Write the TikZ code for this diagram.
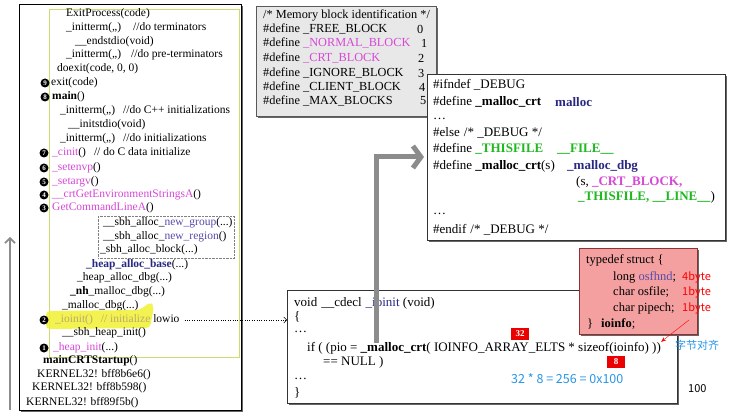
\documentclass[tikz,border=0pt]{standalone}
\usepackage{fontspec}
\setmainfont{Liberation Serif}
\newfontfamily\cjk{Noto Sans CJK SC}
\usetikzlibrary{arrows.meta,shadows,positioning}

\definecolor{pinkfn}{RGB}{214,72,214}
\definecolor{navyfn}{RGB}{40,40,130}
\definecolor{navylt}{RGB}{85,75,170}
\definecolor{greenfn}{RGB}{30,185,30}
\definecolor{bluenote}{RGB}{40,150,230}
\definecolor{framegreen}{RGB}{205,220,110}
\definecolor{hlyellow}{RGB}{240,240,50}
\definecolor{fadedtxt}{RGB}{190,170,110}
\definecolor{memgray}{RGB}{232,232,232}
\definecolor{typefill}{RGB}{245,160,160}
\definecolor{typedraw}{RGB}{140,50,50}
\definecolor{tagred}{RGB}{235,0,0}
\definecolor{arrowgray}{RGB}{140,140,140}

\tikzset{
  shadowed/.style={drop shadow={shadow xshift=2pt,shadow yshift=-2pt,fill=black!60,opacity=1}},
  ln/.style={anchor=west, inner sep=0pt, font=\fontsize{11.5}{13}\selectfont},
  meml/.style={anchor=west, inner sep=0pt, font=\fontsize{12.3}{14}\selectfont},
  defl/.style={anchor=west, inner sep=0pt, font=\fontsize{13}{15}\selectfont},
  iol/.style={anchor=west, inner sep=0pt, font=\fontsize{13}{15}\selectfont},
  tdl/.style={anchor=west, inner sep=0pt, font=\fontsize{12.5}{14}\selectfont},
  note/.style={anchor=west, inner sep=0pt, font=\cjk\fontsize{11}{13}\selectfont},
  num/.style={circle, fill=black, text=white, inner sep=0pt, minimum size=9pt, font=\fontsize{7}{7}\selectfont\bfseries},
  redtag/.style={fill=tagred, text=white, inner sep=0pt, minimum width=18pt, minimum height=12pt, font=\fontsize{9}{9}\selectfont\bfseries},
}

\begin{document}
\begin{tikzpicture}[x=1pt,y=-1pt]
\useasboundingbox (0,0) rectangle (732,417);
% call stack
\node[draw=black, line width=0.8pt, fill=white, shadowed, minimum width=222pt, minimum height=406pt, anchor=north west] (stack) at (19,4) {};
\node[draw=framegreen, line width=0.8pt, minimum width=190pt, minimum height=348pt, anchor=north west] (crtbox) at (49,9) {};
\node[ln] (l1) at (66,14) {ExitProcess(code)};
\node[ln] (l2) at (66,28) {\_initterm(,,)\hspace{12pt}//do terminators};
\node[ln] (l3) at (75,42) {\_\_endstdio(void)};
\node[ln] (l4) at (66,55) {\_initterm(,,)\hspace{10pt}//do pre-terminators};
\node[ln] (l5) at (57,69) {doexit(code, 0, 0)};
\node[num] (n9) at (45,83) {9};
\node[ln] (l6) at (51,83) {exit(code)};
\node[num] (n8) at (45,97) {8};
\node[ln] (l7) at (52,97) {\textbf{main}()};
\node[ln] (l8) at (60,111) {\_initterm(,,)\hspace{8pt}//do C++ initializations};
\node[ln] (l9) at (68,125) {\_\_initstdio(void)};
\node[ln] (l10) at (60,139) {\_initterm(,,)\hspace{8pt}//do initializations};
\node[num] (n7) at (44,153) {7};
\node[ln] (l11) at (52,153) {\textcolor{pinkfn}{\_cinit}()\hspace{8pt}// do C data initialize};
\node[num] (n6) at (44,168) {6};
\node[ln] (l12) at (52,168) {\textcolor{pinkfn}{\_setenvp}()};
\node[num] (n5) at (44,182) {5};
\node[ln] (l13) at (52,182) {\textcolor{pinkfn}{\_setargv}()};
\node[num] (n4) at (44,195) {4};
\node[ln] (l14) at (52,195) {\textcolor{pinkfn}{\_\_crtGetEnvironmentStringsA}()};
\node[num] (n3) at (44,208) {3};
\node[ln] (l15) at (52,208) {\textcolor{pinkfn}{GetCommandLineA}()};
% sbh calls
\node[draw=gray, densely dotted, minimum width=136pt, minimum height=42pt, anchor=north west] (sbhbox) at (98,216) {};
\node[ln] (s1) at (103,223) {\_\_sbh\_alloc\_\textcolor{navylt}{new\_group}(...)};
\node[ln] (s2) at (103,237) {\_\_sbh\_alloc\_\textcolor{navylt}{new\_region}()};
\node[ln] (s3) at (100,250) {\_sbh\_alloc\_block(...)};
\node[ln] (l16) at (86,265) {\textcolor{navyfn}{\textbf{\_heap\_alloc\_base}}(...)};
\node[ln] (l17) at (77,278) {\_heap\_alloc\_dbg(...)};
\node[ln] (l18) at (70,292) {\textbf{\_nh}\_malloc\_dbg(...)};
\node[ln] (l19) at (62,306) {\_malloc\_dbg(...)};
\fill[hlyellow, opacity=0.85, rounded corners=4pt] (46,311) -- (140,310) -- (150,302) -- (154,306) -- (150,328) -- (46,329) -- cycle;
\node[num] (n2) at (44,320) {2};
\node[ln] (l20) at (55,320) {\textcolor{fadedtxt}{\_ioinit()\hspace{8pt}// initialize} lowio};
\node[ln] (l21) at (62,333) {\_\_sbh\_heap\_init()};
\node[num] (n1) at (44,348) {1};
\node[ln] (l22) at (53,348) {\textcolor{pinkfn}{\_heap\_init}(...)};
\node[ln] (l23) at (43,361) {\textbf{mainCRTStartup}()};
\node[ln] (l24) at (37,375) {KERNEL32! bff8b6e6()};
\node[ln] (l25) at (32,388) {KERNEL32! bff8b598()};
\node[ln] (l26) at (26,403) {KERNEL32! bff89f5b()};
\coordinate (upfrom) at (10,410);
\coordinate (upto) at (10,237);
\draw[arrowgray, line width=1.6pt, -{Straight Barb[length=5pt,width=10pt]}] (upfrom) -- (upto);
% block ids
\node[draw=black!65, fill=memgray, shadowed, minimum width=180pt, minimum height=110pt, anchor=north west] (membox) at (256,6) {};
\node[meml] (m0) at (263,15) {/* Memory block identification */};
\node[meml] (m1) at (263,29) {\#define \_FREE\_BLOCK};
\node[meml] (v1) at (417,29) {0};
\node[meml] (m2) at (263,43) {\#define \textcolor{pinkfn}{\_NORMAL\_BLOCK}};
\node[meml] (v2) at (421,43) {1};
\node[meml] (m3) at (263,58) {\#define \textcolor{pinkfn}{\_CRT\_BLOCK}};
\node[meml] (v3) at (418,58) {2};
\node[meml] (m4) at (263,73) {\#define \_IGNORE\_BLOCK};
\node[meml] (v4) at (418,73) {3};
\node[meml] (m5) at (263,87) {\#define \_CLIENT\_BLOCK};
\node[meml] (v5) at (419,87) {4};
\node[meml] (m6) at (263,101) {\#define \_MAX\_BLOCKS};
\node[meml] (v6) at (420,101) {5};
% malloc_crt
\node[draw=black!80, fill=white, shadowed, minimum width=298pt, minimum height=166pt, anchor=north west] (defbox) at (427,74) {};
\node[defl] (d1) at (433,85) {\#ifndef \_DEBUG};
\node[defl] (d2) at (433,102) {\#define \textbf{\_malloc\_crt}};
\node[defl] (d2b) at (555,102) {\textcolor{navyfn}{\textbf{malloc}}};
\node[defl] (d3) at (433,119) {…};
\node[defl] (d4) at (433,133) {\#else\hspace{4pt}/* \_DEBUG */};
\node[defl] (d5) at (433,149) {\#define \textcolor{greenfn}{\textbf{\_THISFILE}}};
\node[defl] (d5b) at (557,149) {\textcolor{greenfn}{\textbf{\_\_FILE\_\_}}};
\node[defl] (d6) at (433,166) {\#define \textbf{\_malloc\_crt}(s)};
\node[defl] (d6b) at (567,166) {\textcolor{navyfn}{\textbf{\_malloc\_dbg}}};
\node[defl] (d7) at (576,182) {(s, \textcolor{pinkfn}{\textbf{\_CRT\_BLOCK,}}};
\node[defl] (d8) at (578,197) {\textcolor{greenfn}{\textbf{\_THISFILE, \_\_LINE\_\_}})};
\node[defl] (d9) at (433,214) {…};
\node[defl] (d10) at (433,230) {\#endif\hspace{4pt}/* \_DEBUG */};
% ioinit
\node[draw=black!80, fill=white, shadowed, minimum width=390pt, minimum height=113pt, anchor=north west] (iobox) at (287,290) {};
\node[iol] (i1) at (294,303) {void\hspace{4pt}\_\_cdecl\hspace{4pt}\textcolor{navyfn}{\_ioinit} (void)};
\node[iol] (i2) at (294,317) {\{};
\node[iol] (i3) at (294,332) {…};
\node[iol] (ifline) at (307,348) {if ( (pio = \textbf{\_malloc\_crt}( IOINFO\_ARRAY\_ELTS * sizeof(ioinfo) ))};
\node[iol] (i5) at (323,362) {== NULL )};
\node[iol] (i6) at (294,379) {…};
\node[iol] (i7) at (294,393) {\}};
\node[note, text=bluenote, font=\cjk\fontsize{12.5}{14}\selectfont] (calc) at (511,379) {32 * 8 = 256 = 0x100};
\node[redtag] (tag32) at (520,334) {32};
\node[redtag] (tag8) at (616,362) {8};
\draw[dotted, -{Straight Barb[length=3pt,width=6pt]}] ([xshift=5pt]l20.east) -- (iobox.west |- l20.east);
\coordinate (gbottom) at (376,343);
\coordinate (gtop) at (376,157);
\draw[arrowgray, line width=5pt, shorten >=3pt, -{Straight Barb[length=8pt,width=22pt]}] (gbottom) -- (gtop) -- (gtop -| defbox.west);
% ioinfo struct
\node[draw=typedraw, fill=typefill, shadowed, minimum width=118pt, minimum height=86pt, anchor=north west] (structbox) at (579,248) {};
\node[tdl] (t1) at (586,260) {typedef\hspace{3pt}struct \{};
\node[tdl] (t2) at (613,277) {long \textcolor{navylt}{osfhnd};};
\node[note, text=red] (b2) at (682,277) {4byte};
\node[tdl] (t3) at (613,292) {char osfile;};
\node[note, text=red] (b3) at (682,292) {1byte};
\node[tdl] (t4) at (613,308) {char pipech;};
\node[note, text=red] (b4) at (682,308) {1byte};
\node[tdl] (t5) at (587,324) {\}\hspace{8pt}\textbf{ioinfo};};
\node[note, text=bluenote] (align) at (675,345) {字节对齐};
\node[note] (page) at (688,389) {100};
\coordinate (rtail) at (689,320);
\draw[red, -{Stealth[length=5pt]}] (rtail) -- (ifline.north east);
\end{tikzpicture}
\end{document}
